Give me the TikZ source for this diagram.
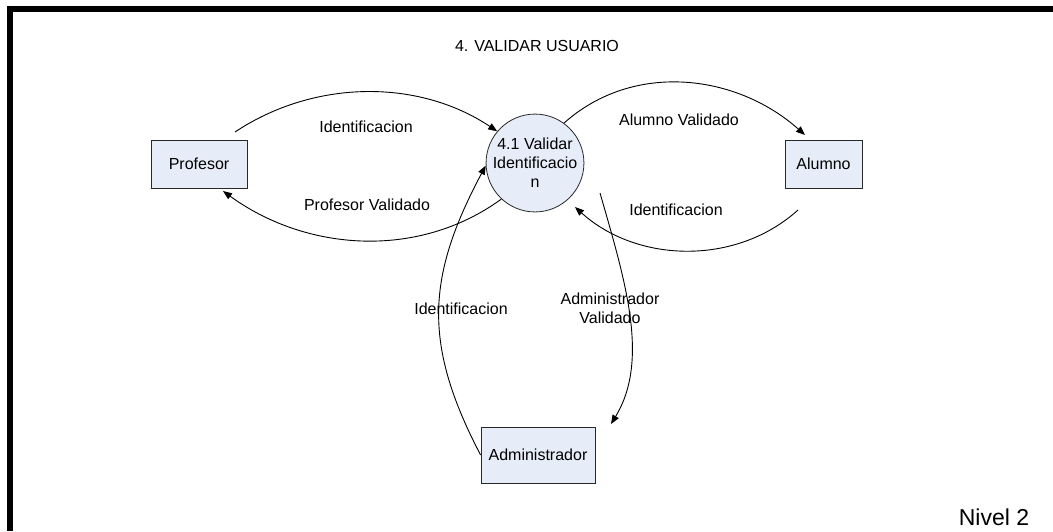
\documentclass[tikz,border=0pt]{standalone}
\usepackage{fontspec}
\setmainfont{Liberation Sans}
\usetikzlibrary{arrows.meta}
\definecolor{boxfill}{RGB}{231,237,248}
\definecolor{edge}{RGB}{40,40,40}
\tikzset{
  ent/.style={draw=edge, line width=0.8pt, fill=boxfill, inner sep=0pt,
              font=\fontsize{16}{19}\selectfont},
  proc/.style={circle, draw=edge, line width=0.8pt, fill=boxfill, inner sep=0pt,
               minimum size=96pt, align=center, font=\fontsize{16}{19}\selectfont},
  lbl/.style={inner sep=0pt, align=center, font=\fontsize{16}{19}\selectfont},
  flow/.style={draw=black, line width=0.9pt, -{Triangle[length=9pt,width=7pt]}}
}
\begin{document}
\begin{tikzpicture}[x=1pt,y=-1pt]
  \useasboundingbox (0,0) rectangle (1053,531);
  \fill[white] (0,0) rectangle (1053,531);
  % frame along the top and left edges
  \draw[line width=6pt, line cap=butt, line join=miter] (10,531) -- (10,9) -- (1053,9);

  % title and level
  \node[lbl] (title) at (537,46) {4. VALIDAR USUARIO};
  \node[inner sep=0pt, font=\fontsize{23}{26}\selectfont] (nivel) at (994,517) {Nivel 2};

  % process and external entities
  \node[proc] (val) at (535,163) {4.1 Validar\\Identificacio\\n};
  \node[ent, minimum width=96pt, minimum height=48pt] (prof) at (199,164) {Profesor};
  \node[ent, minimum width=77pt, minimum height=48pt] (alum) at (823.5,164) {Alumno};
  \node[ent, minimum width=114pt, minimum height=56pt] (admin) at (538,455) {Administrador};

  % free ends of the data flows
  \coordinate (profout) at (235,132);
  \coordinate (profin) at (223,191);
  \coordinate (alumin) at (805,135);
  \coordinate (alumout) at (798,210);
  \coordinate (valin) at (575,207);
  \coordinate (valout) at (600,193);
  \coordinate (adminin) at (611,424);

  % data flows
  \draw[flow] (profout) .. controls (314,79.5) and (418,78.5) .. (val.140);
  \draw[flow] (val.227) .. controls (417.5,260) and (305.5,251) .. (profin);
  \draw[flow] (val.54) .. controls (633.5,61) and (736.5,74) .. (alumin);
  \draw[flow] (alumout) .. controls (736,266) and (637,263) .. (valin);
  \draw[flow] (admin.west) .. controls (422,343) and (427,276) .. (val.183);
  \draw[flow] (valout) .. controls (625,280) and (650,360) .. (adminin);

  % flow labels
  \node[lbl] (l1) at (366,127) {Identificacion};
  \node[lbl] (l2) at (367,205) {Profesor Validado};
  \node[lbl] (l3) at (679,120) {Alumno Validado};
  \node[lbl] (l4) at (676,210) {Identificacion};
  \node[lbl] (l5) at (461,309) {Identificacion};
  \node[lbl] (l6) at (610,308.5) {Administrador\\Validado};
\end{tikzpicture}
\end{document}
